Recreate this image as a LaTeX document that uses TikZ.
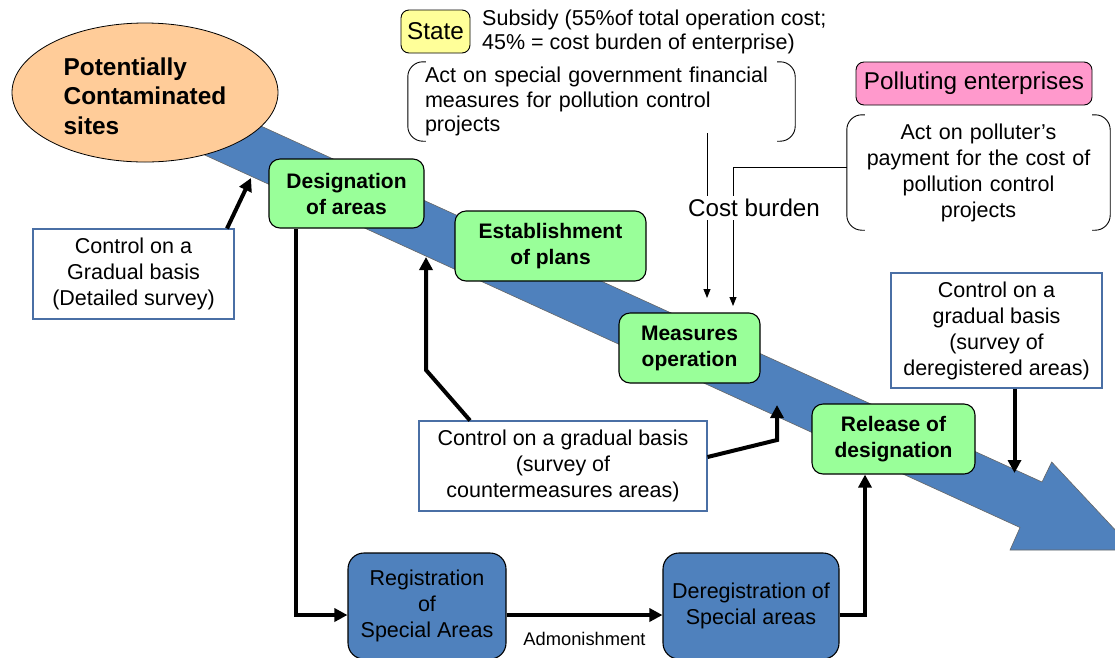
\documentclass[tikz,border=0pt]{standalone}
\usepackage{fontspec}
\setmainfont{Liberation Sans}
\usetikzlibrary{arrows.meta,shapes.geometric}
\definecolor{bandblue}{HTML}{4F81BD}
\definecolor{boxgreen}{HTML}{99FF99}
\definecolor{stateyellow}{HTML}{FFFF99}
\definecolor{pollpink}{HTML}{FF99CC}
\definecolor{sitepeach}{HTML}{FFCC99}
\definecolor{ctrlborder}{HTML}{4A6FA5}
\begin{document}
\begin{tikzpicture}[x=1pt,y=-1pt,
  greenbox/.style={draw=black, line width=1.1pt, fill=boxgreen, rounded corners=11pt,
    align=center, inner sep=0pt, font=\fontsize{21}{26}\selectfont\bfseries},
  bluebox/.style={draw=black, line width=1.1pt, fill=bandblue, rounded corners=16pt,
    align=center, inner sep=0pt, font=\fontsize{21.5}{26}\selectfont},
  ctrlbox/.style={draw=ctrlborder, line width=1.1pt, fill=white,
    align=center, inner sep=0pt, font=\fontsize{21.5}{26}\selectfont},
  tagbox/.style={draw=black, line width=0.9pt, rounded corners=8pt,
    align=center, inner sep=0pt, font=\fontsize{24.3}{28}\selectfont},
  bigarrow/.style={line width=4pt, -{Triangle[length=13pt,width=13pt]}},
  thinarrow/.style={line width=1pt, -{Triangle[length=9pt,width=7pt]}},
  bracketline/.style={line width=0.9pt, rounded corners=15pt}
]
\useasboundingbox (0,0) rectangle (1115,657);
\clip (0,0) rectangle (1115,657);

% big band arrow
\path[fill=bandblue, draw=black!60, line width=0.6pt]
  (150,75.5) -- (1042,482) -- (1051.7,462) -- (1134,550) -- (1010,550)
  -- (1020,527.5) -- (150,130) -- cycle;

% ellipse
\node (pcs) [ellipse, draw=black, line width=0.8pt, fill=sitepeach,
  minimum width=266pt, minimum height=139pt, inner sep=0pt] at (145,92.5) {};
\node (pcst) [align=left, inner sep=0pt, font=\fontsize{24.4}{29.5}\selectfont\bfseries]
  at (145,96) {Potentially\\Contaminated\\sites};

% green process boxes
\node (des) [greenbox, minimum width=155pt, minimum height=69pt] at (346.5,193.5) {Designation\\of areas};
\node (est) [greenbox, minimum width=191pt, minimum height=70pt] at (550.5,246) {Establishment\\of plans};
\node (meas) [greenbox, minimum width=141pt, minimum height=70pt] at (689.5,348) {Measures\\operation};
\node (rel) [greenbox, minimum width=163pt, minimum height=70pt] at (893.5,439) {Release of\\designation};

% blue boxes
\node (rega) [bluebox, minimum width=158pt, minimum height=106pt] at (427,606) {Registration\\of\\Special Areas};
\node (dereg) [bluebox, minimum width=176pt, minimum height=106pt] at (751,606) {Deregistration of\\Special areas};

% control boxes
\node (c1) [ctrlbox, minimum width=201pt, minimum height=90pt] at (133.5,274) {Control on a\\Gradual basis\\(Detailed survey)};
\node (c2) [ctrlbox, minimum width=288pt, minimum height=90pt] at (563,466) {Control on a gradual basis\\(survey of\\countermeasures areas)};
\node (c3) [ctrlbox, minimum width=211pt, minimum height=115pt] at (996.5,330.5) {Control on a\\gradual basis\\(survey of\\deregistered areas)};

% state and polluters
\node (state) [tagbox, fill=stateyellow, minimum width=69pt, minimum height=43pt] at (435.5,31.5) {State};
\node (subs) [anchor=west, align=left, inner sep=0pt, font=\fontsize{21.5}{24}\selectfont] at (482,32)
  {Subsidy (55\%of total operation cost;\\45\% = cost burden of enterprise)};
\node (poll) [tagbox, fill=pollpink, minimum width=236pt, minimum height=43pt] at (974,83.5) {Polluting enterprises};

% bracket boxes
\node (act1) [align=left, text width=353pt, inner xsep=17pt, inner ysep=0pt, minimum height=79pt,
  font=\fontsize{21.5}{24.5}\selectfont] at (601.5,101.5)
  {Act on special government financial\\measures for pollution control\\projects};
\draw[bracketline] ([xshift=18pt]act1.north west) -- (act1.north west) -- (act1.south west) -- ([xshift=18pt]act1.south west);
\draw[bracketline] ([xshift=-18pt]act1.north east) -- (act1.north east) -- (act1.south east) -- ([xshift=-18pt]act1.south east);

\node (act2) [align=center, text width=229pt, inner xsep=17pt, inner ysep=0pt, minimum height=115pt,
  font=\fontsize{21.5}{26}\selectfont] at (978.5,172.5)
  {Act on polluter’s\\payment for the cost of\\pollution control\\projects};
\draw[bracketline] ([xshift=18pt]act2.north west) -- (act2.north west) -- (act2.south west) -- ([xshift=18pt]act2.south west);
\draw[bracketline] ([xshift=-18pt]act2.north east) -- (act2.north east) -- (act2.south east) -- ([xshift=-18pt]act2.south east);

% cost burden lines
\coordinate (m1) at (707,298);
\coordinate (m2) at (733,306);
\draw[thinarrow] ([xshift=105.5pt,yshift=8pt]act1.south) -- (m1);
\draw[thinarrow] ([yshift=5.5pt]act2.west) -| (m2);
\node (cost) [fill=white, inner xsep=1pt, inner ysep=3pt, font=\fontsize{24.2}{28}\selectfont] at (754,208) {Cost burden};

% thick connectors
\coordinate (p1) at (251,178);
\coordinate (p2) at (426,257);
\coordinate (k2) at (426,370);
\coordinate (p3) at (777,405);
\coordinate (k3) at (777,440);
\coordinate (p4) at (1014.5,473);

\draw[bigarrow] ([xshift=93.5pt]c1.north) -- (p1);
\draw[bigarrow] ([xshift=-50.5pt]des.south) |- ([yshift=-9pt]rega.west);
\draw[bigarrow] ([xshift=-93pt]c2.north) -- (k2) -- (p2);
\draw[bigarrow] ([yshift=9pt]c2.east) -- (k3) -- (p3);
\draw[bigarrow] ([yshift=-9pt]rega.east) -- ([yshift=-9pt]dereg.west)
  node[midway, below=12pt, font=\fontsize{18.3}{22}\selectfont] (adm) {Admonishment};
\draw[bigarrow] ([yshift=-9pt]dereg.east) -| ([xshift=-28.5pt]rel.south);
\draw[bigarrow] ([xshift=18pt]c3.south) -- (p4);
\end{tikzpicture}
\end{document}
